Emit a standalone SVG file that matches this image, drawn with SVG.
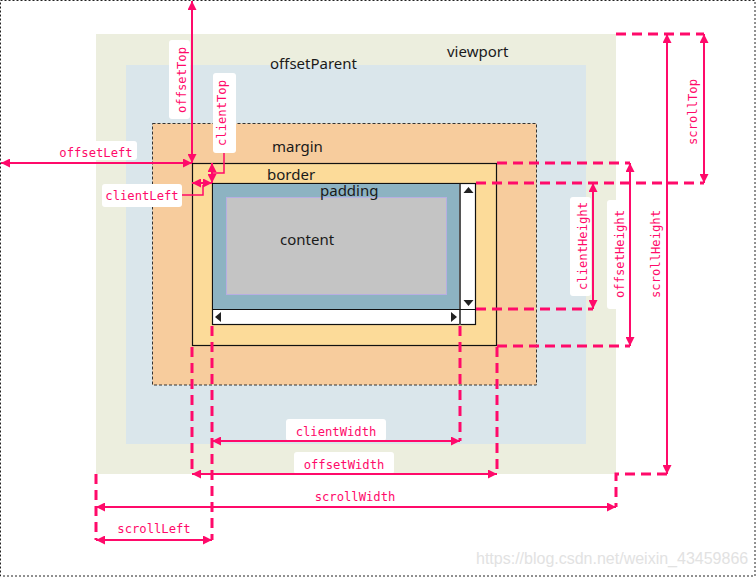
<svg xmlns="http://www.w3.org/2000/svg" width="756" height="577" viewBox="0 0 756 577">
<defs>
<style>
.box{font-family:"Noto Sans","Open Sans",sans-serif;font-size:15px;fill:#1a1a1a}
.lbl{font-family:"DejaVu Sans Mono","Liberation Mono",monospace;font-size:12.2px;fill:#ff0a6a;text-anchor:middle}
.lb{fill:#ffffff;rx:3px}
.arr{fill:none;stroke:#ff0a6a;stroke-width:2;marker-start:url(#ah);marker-end:url(#ah)}
.lead{fill:none;stroke:#ff0a6a;stroke-width:1.5}
.dash{fill:none;stroke:#ff0a6a;stroke-width:3;stroke-dasharray:10 6}
.tri{fill:#222}
</style>
<marker id="ah" viewBox="0 0 10 10" refX="10" refY="5" markerWidth="9" markerHeight="9" markerUnits="userSpaceOnUse" orient="auto-start-reverse">
<path d="M0,0 L10,5 L0,10 z" fill="#ff0a6a"/>
</marker>
</defs>
<rect x="0.5" y="0.5" width="754.5" height="575.5" fill="#ffffff" stroke="#222" stroke-width="1" stroke-dasharray="2 2"/>
<g id="viewport">
<rect x="96" y="34" width="520" height="440" fill="#ECEEDE"/>
<text class="box" x="447" y="57">viewport</text>
</g>
<g id="offsetParent">
<rect x="126" y="65" width="460" height="379" fill="#DAE6EB"/>
<text class="box" x="270" y="69">offsetParent</text>
</g>
<g id="margin">
<rect x="152.5" y="123.5" width="384" height="261.5" fill="#F7CC9D" stroke="#333" stroke-width="1" stroke-dasharray="3 2"/>
<text class="box" x="272" y="152">margin</text>
</g>
<g id="border">
<rect x="192.5" y="163.5" width="304" height="182" fill="#FCDB99" stroke="#111" stroke-width="1.2"/>
<text class="box" x="267" y="180">border</text>
</g>
<g id="padding">
<rect x="212.5" y="183.5" width="263" height="141" fill="#ffffff" stroke="#111" stroke-width="1.2"/>
<rect x="213" y="184" width="247" height="125" fill="#8DB3C2"/>
<line x1="460" y1="184" x2="460" y2="325" stroke="#555" stroke-width="2"/>
<line x1="213" y1="309.5" x2="476" y2="309.5" stroke="#111" stroke-width="1.2"/>
<path class="tri" d="M463.5,193 L468.5,187 L473.5,193 z"/>
<path class="tri" d="M463.5,300 L468.5,306 L473.5,300 z"/>
<path class="tri" d="M221,312 L215,317 L221,322 z"/>
<path class="tri" d="M451,312 L457,317 L451,322 z"/>
</g>
<g id="content">
<rect x="226.5" y="197.5" width="220" height="97" fill="#C4C4C4" stroke="#B7AEE2" stroke-width="1"/>
<text class="box" x="280" y="245">content</text>
</g>
<g id="padding-label">
<text class="box" x="320" y="196">padding</text>
</g>
<g id="label-boxes">
<rect class="lb" x="169" y="40" width="21" height="79"/>
<rect class="lb" x="213" y="73" width="23" height="80"/>
<rect class="lb" x="53" y="141" width="84" height="19"/>
<rect class="lb" x="102" y="184" width="80" height="23"/>
<rect class="lb" x="286" y="419" width="100" height="22"/>
<rect class="lb" x="294" y="452" width="100" height="22"/>
<rect class="lb" x="570" y="197" width="21" height="99"/>
<rect class="lb" x="607" y="200" width="21" height="109"/>
</g>
<g id="connectors">
<path class="dash" d="M616,34 H704"/>
<path class="dash" d="M476,183 H704"/>
<path class="dash" d="M497,163 H630"/>
<path class="dash" d="M476,309 H593"/>
<path class="dash" d="M497,346 H630"/>
<path class="dash" d="M667,474 H616 V507"/>
<path class="dash" d="M212,326 V540"/>
<path class="dash" d="M460,326 V441"/>
<path class="dash" d="M192,347 V474"/>
<path class="dash" d="M497,347 V474"/>
<path class="dash" d="M96,474 V540"/>
<path class="arr" d="M192,1 V163"/>
<path class="arr" d="M1,163 H192"/>
<path class="arr" d="M212,163 V183"/>
<path class="arr" d="M192,183 H212"/>
<path class="lead" d="M224,153 V173 H213"/>
<path class="lead" d="M182,195 H203 V185"/>
<path class="arr" d="M704,34 V183"/>
<path class="arr" d="M667,34 V474"/>
<path class="arr" d="M630,163 V346"/>
<path class="arr" d="M593,183 V309"/>
<path class="arr" d="M212,441 H460"/>
<path class="arr" d="M192,474 H497"/>
<path class="arr" d="M96,507 H616"/>
<path class="arr" d="M96,540 H212"/>
</g>
<g id="labels">
<text class="lbl" transform="rotate(-90 186 80)" x="186" y="80">offsetTop</text>
<text class="lbl" transform="rotate(-90 226 113)" x="226" y="113">clientTop</text>
<text class="lbl" x="96" y="157">offsetLeft</text>
<text class="lbl" x="142" y="200">clientLeft</text>
<text class="lbl" x="336" y="436">clientWidth</text>
<text class="lbl" x="344" y="469">offsetWidth</text>
<text class="lbl" x="355" y="501">scrollWidth</text>
<text class="lbl" x="154" y="533">scrollLeft</text>
<text class="lbl" transform="rotate(-90 587 246)" x="587" y="246">clientHeight</text>
<text class="lbl" transform="rotate(-90 624 254)" x="624" y="254">offsetHeight</text>
<text class="lbl" transform="rotate(-90 660 254)" x="660" y="254">scrollHeight</text>
<text class="lbl" transform="rotate(-90 697 112)" x="697" y="112">scrollTop</text>
</g>
<text x="476" y="564" font-family="Liberation Sans, Arial, sans-serif" font-size="16" fill="#E2E2E2">https://blog.csdn.net/weixin_43459866</text>
</svg>
